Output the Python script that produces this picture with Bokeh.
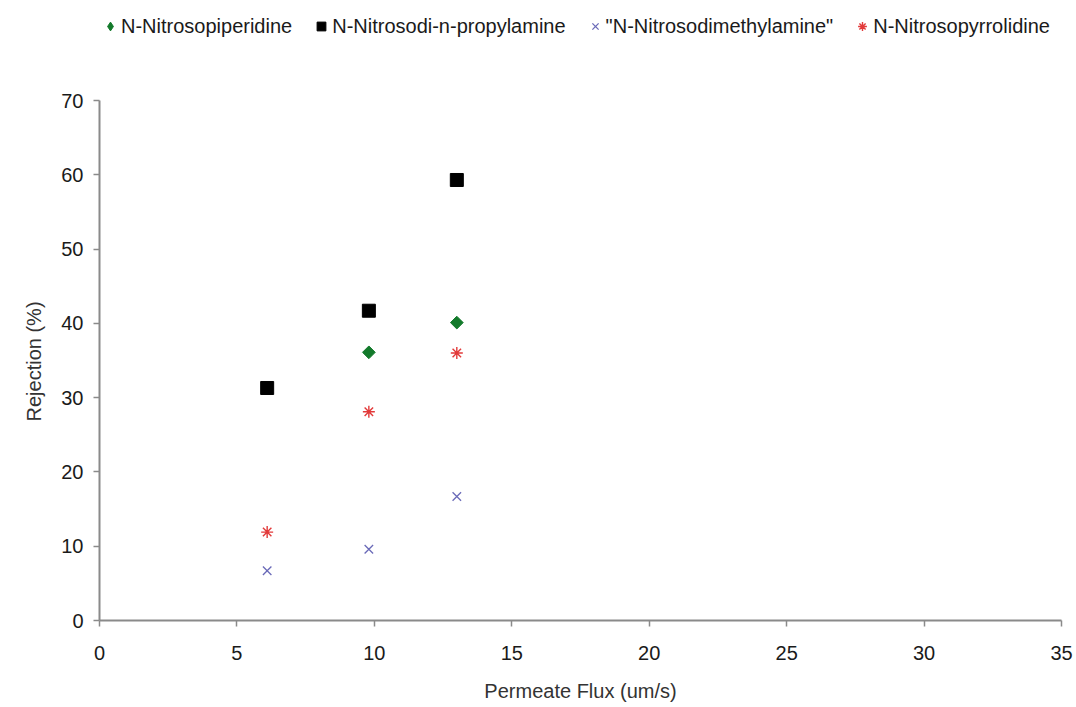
from bokeh.plotting import figure
from bokeh.models import Legend, LegendItem, Range1d, FixedTicker, Title
from bokeh.embed import file_html
from bokeh.resources import INLINE

# Permeate flux (um/s) and rejection (%) for each nitrosamine
flux = [6.1, 9.8, 13.0]
piperidine_flux = [9.8, 13.0]
piperidine = [36.1, 40.1]
propylamine = [31.3, 41.7, 59.3]
dimethylamine = [6.7, 9.6, 16.7]
pyrrolidine = [11.9, 28.1, 36.0]

x_ticks = [0, 5, 10, 15, 20, 25, 30, 35]
y_ticks = [0, 10, 20, 30, 40, 50, 60, 70]
Y_MAX = 70

FONT = "Liberation Sans"
AXIS_COLOR = "#8a8a8a"
GREEN = "#137a2b"

# The frame runs to the top of the canvas so the legend row can sit in it;
# the y axis itself is bounded to 0..70.
PLOT_H = 520
HEADROOM = 100
p = figure(
    frame_width=962, frame_height=PLOT_H + HEADROOM,
    min_border_left=99, min_border_right=15,
    min_border_top=0, min_border_bottom=87,
    output_backend="svg", toolbar_location=None,
    x_range=Range1d(0, 35),
    y_range=Range1d(0, Y_MAX * (PLOT_H + HEADROOM) / PLOT_H),
)
p.outline_line_color = None
p.xgrid.visible = False
p.ygrid.visible = False

for ax in (p.xaxis, p.yaxis):
    ax.axis_line_color = AXIS_COLOR
    ax.axis_line_width = 2
    ax.major_tick_line_color = AXIS_COLOR
    ax.major_tick_line_width = 1.5
    ax.major_tick_out = 6
    ax.major_tick_in = 0
    ax.minor_tick_line_color = None
    ax.major_label_text_font = FONT
    ax.major_label_text_font_size = "20px"
    ax.major_label_text_color = "#1a1a1a"
    ax.axis_label_text_font = FONT
    ax.axis_label_text_font_size = "20px"
    ax.axis_label_text_font_style = "normal"
    ax.axis_label_text_color = "#333333"

p.xaxis.ticker = FixedTicker(ticks=x_ticks)
p.yaxis.ticker = FixedTicker(ticks=y_ticks)
p.yaxis.bounds = (0, Y_MAX)
p.xaxis.axis_label = "Permeate Flux (um/s)"
p.xaxis.major_label_standoff = 19
p.xaxis.axis_label_standoff = 17
p.yaxis.major_label_standoff = 10

# y axis title, placed along the bounded 0..70 part of the axis
y_title = Title(
    text="Rejection (%)", align="left", vertical_align="top",
    text_font=FONT, text_font_size="20px", text_font_style="normal",
    text_color="#333333", offset=199, standoff=24,
)
p.add_layout(y_title, "left")

r_pip = p.scatter(piperidine_flux, piperidine, marker="square", size=9, angle=0.785398,
                  fill_color=GREEN, line_color=GREEN)
r_pro = p.scatter(flux, propylamine, marker="square", size=13,
                  fill_color="black", line_color="black")
r_dim = p.scatter(flux, dimethylamine, marker="x", size=12,
                  line_color="#6a6ab8", line_width=1.3)
r_pyr = p.scatter(flux, pyrrolidine, marker="asterisk", size=12,
                  line_color="#e23a3a", line_width=1.4)
# legend swatch for the piperidine series (legend glyphs are never rotated)
r_pip_key = p.scatter(piperidine_flux, piperidine, marker="diamond", size=12,
                      fill_color=GREEN, line_color=GREEN, visible=False)

legend = Legend(
    items=[
        LegendItem(label="N-Nitrosopiperidine", renderers=[r_pip_key]),
        LegendItem(label="N-Nitrosodi-n-propylamine", renderers=[r_pro]),
        LegendItem(label="\"N-Nitrosodimethylamine\"", renderers=[r_dim]),
        LegendItem(label="N-Nitrosopyrrolidine", renderers=[r_pyr]),
    ],
    orientation="horizontal",
    location=(0, PLOT_H + HEADROOM - 38),
    border_line_color=None,
    background_fill_alpha=0,
    label_text_font=FONT,
    label_text_font_size="20px",
    label_text_color="#1a1a1a",
    glyph_width=22,
    glyph_height=24,
    label_standoff=0,
    spacing=18,
    padding=0,
    margin=0,
)
p.add_layout(legend, "center")

open("out.html", "w").write(file_html(p, INLINE))
